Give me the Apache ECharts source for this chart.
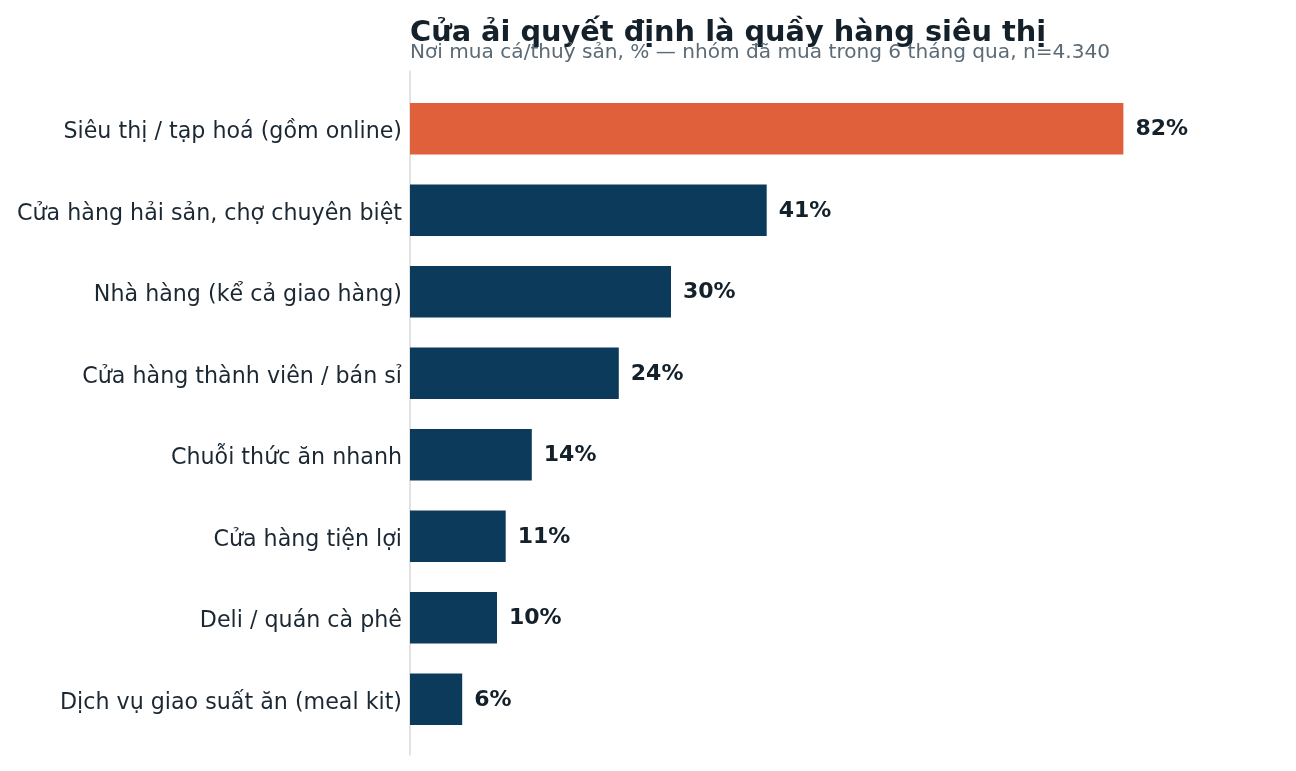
<!DOCTYPE html>
<html>
<head>
<meta charset="utf-8">
<script src="https://cdn.jsdelivr.net/npm/echarts@6/dist/echarts.min.js"></script>
<style>html,body{margin:0;padding:0;background:#fff}#c{width:1296px;height:771px}</style>
</head>
<body>
<div id="c"></div>
<script>
const categories = [
  "Siêu thị / tạp hoá (gồm online)",
  "Cửa hàng hải sản, chợ chuyên biệt",
  "Nhà hàng (kể cả giao hàng)",
  "Cửa hàng thành viên / bán sỉ",
  "Chuỗi thức ăn nhanh",
  "Cửa hàng tiện lợi",
  "Deli / quán cà phê",
  "Dịch vụ giao suất ăn (meal kit)"
];
const values = [82, 41, 30, 24, 14, 11, 10, 6];
const highlightIndex = 0;
const titleText = "Cửa ải quyết định là quầy hàng siêu thị";
const subtitleText = "Nơi mua cá/thuỷ sản, % — nhóm đã mua trong 6 tháng qua, n=4.340";

const FONT = "'DejaVu Sans', sans-serif";
const chart = echarts.init(document.getElementById('c'));
chart.setOption({
  animation: false,
  backgroundColor: '#ffffff',
  title: [
    { text: titleText, left: 410, top: 19, padding: 0,
      textStyle: { fontFamily: FONT, fontSize: 28.8, fontWeight: 'bold', color: '#14212b' } },
    { text: subtitleText, left: 410, top: 43, padding: 0,
      textStyle: { fontFamily: FONT, fontSize: 20.1, fontWeight: 'normal', color: '#5b6a74' } }
  ],
  grid: [
    { left: 410, right: 16, top: 88, bottom: 31, containLabel: false },
    { left: 410, right: 16, top: 71, bottom: 16, containLabel: false }
  ],
  xAxis: [
    { type: 'value', min: 0, max: 100, gridIndex: 0, show: false },
    { type: 'value', min: 0, max: 1, gridIndex: 1, show: false }
  ],
  yAxis: [
    { type: 'category', data: categories, inverse: true, gridIndex: 0,
      axisLine: { show: false }, axisTick: { show: false },
      axisLabel: { fontFamily: FONT, fontSize: 22.2, color: '#1b2833', margin: 8,
        verticalAlign: 'top', lineHeight: 7 } },
    { type: 'value', min: 0, max: 1, gridIndex: 1,
      axisLine: { show: true, lineStyle: { color: '#d9d9d9', width: 1.5 } },
      axisTick: { show: false }, axisLabel: { show: false }, splitLine: { show: false } }
  ],
  series: [{
    type: 'bar',
    xAxisIndex: 0, yAxisIndex: 0,
    data: values.map((v, i) => ({ value: v, itemStyle: { color: i === highlightIndex ? '#e0603c' : '#0b3a5b' } })),
    barCategoryGap: '37%',
    label: { show: true, position: 'right', distance: 12, offset: [0, 1], formatter: '{c}%',
      fontFamily: FONT, fontSize: 22, fontWeight: 'bold', color: '#14212b' }
  }]
});
</script>
</body>
</html>
